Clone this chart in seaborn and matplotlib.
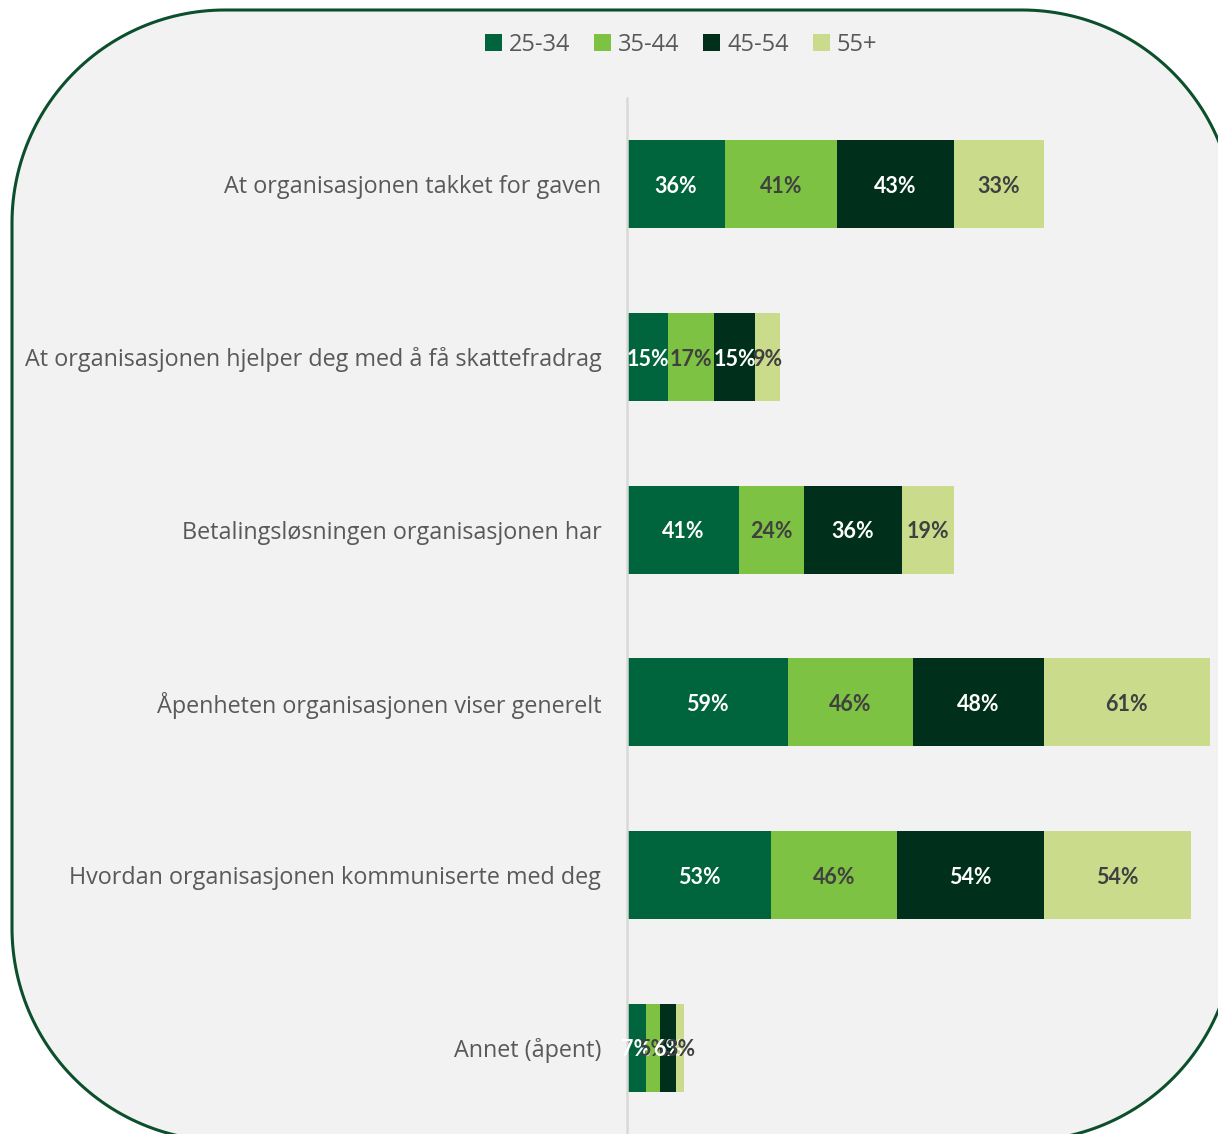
import numpy as np
import pandas as pd
import matplotlib
matplotlib.use("Agg")
import matplotlib.pyplot as plt
import seaborn as sns
from matplotlib.patches import Polygon
from matplotlib.patches import Patch
from matplotlib.transforms import IdentityTransform

# Data
kategorier = [
    "At organisasjonen takket for gaven",
    "At organisasjonen hjelper deg med å få skattefradrag",
    "Betalingsløsningen organisasjonen har",
    "Åpenheten organisasjonen viser generelt",
    "Hvordan organisasjonen kommuniserte med deg",
    "Annet (åpent)",
]
aldersgrupper = ["25-34", "35-44", "45-54", "55+"]
v_25_34 = [36, 15, 41, 59, 53, 7]
v_35_44 = [41, 17, 24, 46, 46, 5]
v_45_54 = [43, 15, 36, 48, 54, 6]
v_55 = [33, 9, 19, 61, 54, 3]

farger = ["#00643C", "#7DC242", "#002F1B", "#CADC8C"]
tekstfarger = ["white", "#404040", "white", "#404040"]

W, H = 1218, 1134
sns.set_theme(style="white")
plt.rcParams["font.family"] = ["Open Sans", "DejaVu Sans"]

fig = plt.figure(figsize=(W / 100, H / 100), dpi=100)
fig.patch.set_facecolor("white")

# avrundet ramme i piksler (origo nede til venstre)
x0, x1 = 12, 1235
y0, y1 = H - 1141, H - 10
r = 213
pts = []
for cx, cy, a0 in [(x1 - r, y1 - r, 0), (x0 + r, y1 - r, 90),
                   (x0 + r, y0 + r, 180), (x1 - r, y0 + r, 270)]:
    t = np.radians(np.linspace(a0, a0 + 90, 60))
    pts += list(zip(cx + r * np.cos(t), cy + r * np.sin(t)))
ramme = Polygon(pts, closed=True, facecolor="#F2F2F2", edgecolor="#0B4F2C",
                linewidth=2.2, transform=IdentityTransform(), zorder=-5)
fig.add_artist(ramme)

ax = fig.add_axes([627 / W, 0, 1 - 627 / W, (H - 98) / H])
ax.set_facecolor("none")

serier = [v_25_34, v_35_44, v_45_54, v_55]
df = pd.DataFrame({"Kategori": kategorier})
for navn, verdier in zip(aldersgrupper, serier):
    df[navn] = verdier
kum = df[aldersgrupper].cumsum(axis=1)

# stablede søyler: tegn kumulative summer bakfra og fremover
for i in reversed(range(len(aldersgrupper))):
    sns.barplot(x=kum[aldersgrupper[i]], y=df["Kategori"], color=farger[i],
                saturation=1, width=0.51, orient="h", ax=ax, linewidth=0)

for i, navn in enumerate(aldersgrupper):
    for j in range(len(kategorier)):
        verdi = df[navn][j]
        midt = kum[navn][j] - verdi / 2
        ax.text(midt, j, f"{verdi}%", ha="center", va="center_baseline",
                fontsize=15.5, fontweight="bold", color=tekstfarger[i],
                family=["Lato", "DejaVu Sans"])

ax.set_xlim(0, 217)
ax.set_ylim(len(kategorier) - 0.5, -0.5)
ax.set_xlabel("")
ax.set_ylabel("")
ax.set_xticks([])
ax.tick_params(axis="y", length=0, pad=18.5, labelsize=16.8, labelcolor="#595959")
for s in ["top", "right", "bottom"]:
    ax.spines[s].set_visible(False)
ax.spines["left"].set_color("#D9D9D9")
ax.spines["left"].set_linewidth(1.8)

handles = [Patch(facecolor=c, edgecolor="none") for c in farger]
fig.legend(handles, aldersgrupper, loc="center", ncol=4,
           bbox_to_anchor=(681 / W, 1 - 45 / H), frameon=False,
           fontsize=17, labelcolor="#595959", handlelength=0.72,
           handleheight=0.72, handletextpad=0.3, columnspacing=1.0)

fig.savefig("out.png", dpi=100)
